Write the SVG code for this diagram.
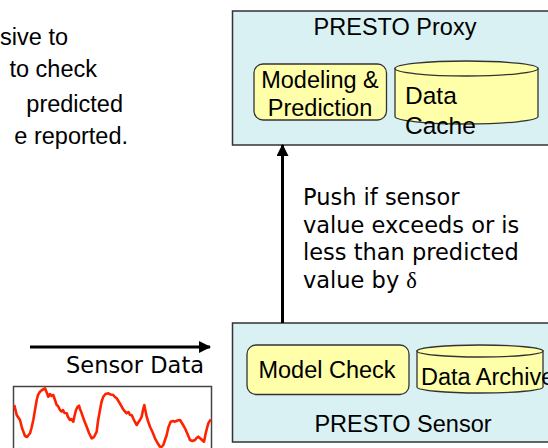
<svg xmlns="http://www.w3.org/2000/svg" width="548" height="448" viewBox="0 0 548 448">
<defs>
<marker id="ah" viewBox="0 0 12 12" refX="11" refY="6" markerWidth="12" markerHeight="12" markerUnits="userSpaceOnUse" orient="auto">
<path d="M0,0 L12,6 L0,12 Z" fill="#000"/>
</marker>
</defs>
<style>
.box{fill:#D9F1F3;stroke:#333;stroke-width:1.5}
.yel{fill:#FFFFAA;stroke:#333;stroke-width:1.3}
.ar{font-family:"Liberation Sans",Arial,sans-serif;fill:#000}
.cm{font-family:"Comic Sans MS","DejaVu Sans",sans-serif;fill:#000;font-size:22.5px}
.conn{stroke:#000;stroke-width:3;fill:none}
</style>
<rect width="548" height="448" fill="#fff"/>
<g id="left-text" class="ar" font-size="23.5">
<text x="68" y="45" text-anchor="end">sive to</text>
<text x="97" y="77" text-anchor="end">to check</text>
<text x="123" y="112" text-anchor="end">predicted</text>
<text x="128" y="144" text-anchor="end">e reported.</text>
</g>
<g id="proxy">
<rect class="box" x="232.5" y="11" width="330" height="134"/>
<text class="ar" x="395" y="35" font-size="23.5" text-anchor="middle">PRESTO Proxy</text>
</g>
<g id="modeling">
<rect class="yel" x="254" y="64" width="132.5" height="56" rx="9"/>
<text class="ar" x="320" y="88" font-size="23.5" text-anchor="middle">Modeling &amp;</text>
<text class="ar" x="320" y="116" font-size="23.5" text-anchor="middle">Prediction</text>
</g>
<g id="data-cache">
<path class="yel" d="M395,68.5 L395,116.5 A71.5,7.5 0 0 0 538,116.5 L538,68.5 Z"/>
<ellipse class="yel" cx="466.5" cy="68.5" rx="71.5" ry="7.5"/>
<text class="ar" x="405" y="104" font-size="24.5">Data</text>
<text class="ar" x="405" y="134" font-size="24.5">Cache</text>
</g>
<g id="sensor">
<rect class="box" x="232.5" y="323" width="330" height="119"/>
<text class="ar" x="403" y="432" font-size="23.5" text-anchor="middle">PRESTO Sensor</text>
</g>
<g id="model-check">
<rect class="yel" x="247" y="345" width="162" height="49.5" rx="9"/>
<text class="ar" x="327" y="378" font-size="23.5" text-anchor="middle">Model Check</text>
</g>
<g id="data-archive">
<path class="yel" d="M417,351 L417,387 A63,6 0 0 0 543,387 L543,351 Z"/>
<ellipse class="yel" cx="480" cy="351" rx="63" ry="6"/>
<text class="ar" x="421" y="385" font-size="23.5">Data Archive</text>
</g>
<g id="chart">
<rect x="13.5" y="386.5" width="198" height="80" fill="#fff" stroke="#444" stroke-width="1.5"/>
<polyline fill="none" stroke="#FF2200" stroke-width="2.6" stroke-linejoin="round" points="14.3,405 15.5,410 16.7,415 18,417 20,420 22,428 25,436 27,437 30,433.3 31.5,428 33.3,420 35,410 36.7,400 38,395 40,391.7 42,390 44,389 45,388.3 46.5,392 48.3,396.7 50,394 51.5,396 53.3,395 55,400 56.7,405 58,406 60,410 61.7,411.7 63,410 64.5,413 66.7,413.3 68,417 70,420 71.5,419 73.3,421.7 74.5,416 76,410 77.5,407 79,405.7 80,409 81.7,413.3 84,420 86.7,426.7 89,433 91.7,438.3 94,437 96.7,431.7 98,421 100,410 101.5,402 103.3,396.7 105.5,394 108.3,393.3 110.5,394.5 113.3,395 115,397 116.7,398.3 119,402 121.7,406.7 123,409 124.5,411 126.7,413.3 128.5,412 130,415 131.7,415 133.5,419 135,422 136.7,425 138.5,422 140,420 141.7,416.7 143,410 144.3,405 145.5,411 146.7,416.7 148,421 150,426.7 152.5,432 155,438.3 157.5,443 160,446.7 161.5,447 163.3,445 165,440 166.7,435 168.5,427 170.7,421.7 173,421 175,421.7 177.5,420.5 180,420 182.5,424 185,428.3 187.5,434 190,440 192.5,441 195,440 196.5,438 198.3,436.7 201,439 204,441.7 206,432 208.3,423.3 210.7,419.3"/>
</g>
<g id="connectors">
<line class="conn" x1="282.5" y1="323" x2="282.5" y2="145" marker-end="url(#ah)"/>
<line class="conn" x1="30" y1="347" x2="210" y2="347" marker-end="url(#ah)"/>
</g>
<g id="labels">
<text class="cm" x="303" y="205">Push if sensor</text>
<text class="cm" x="303" y="232.5">value exceeds or is</text>
<text class="cm" x="303" y="260">less than predicted</text>
<text class="cm" x="303" y="287.5">value by <tspan font-family="Liberation Serif,serif">δ</tspan></text>
<text class="cm" x="204" y="373" text-anchor="end">Sensor Data</text>
</g>
</svg>
